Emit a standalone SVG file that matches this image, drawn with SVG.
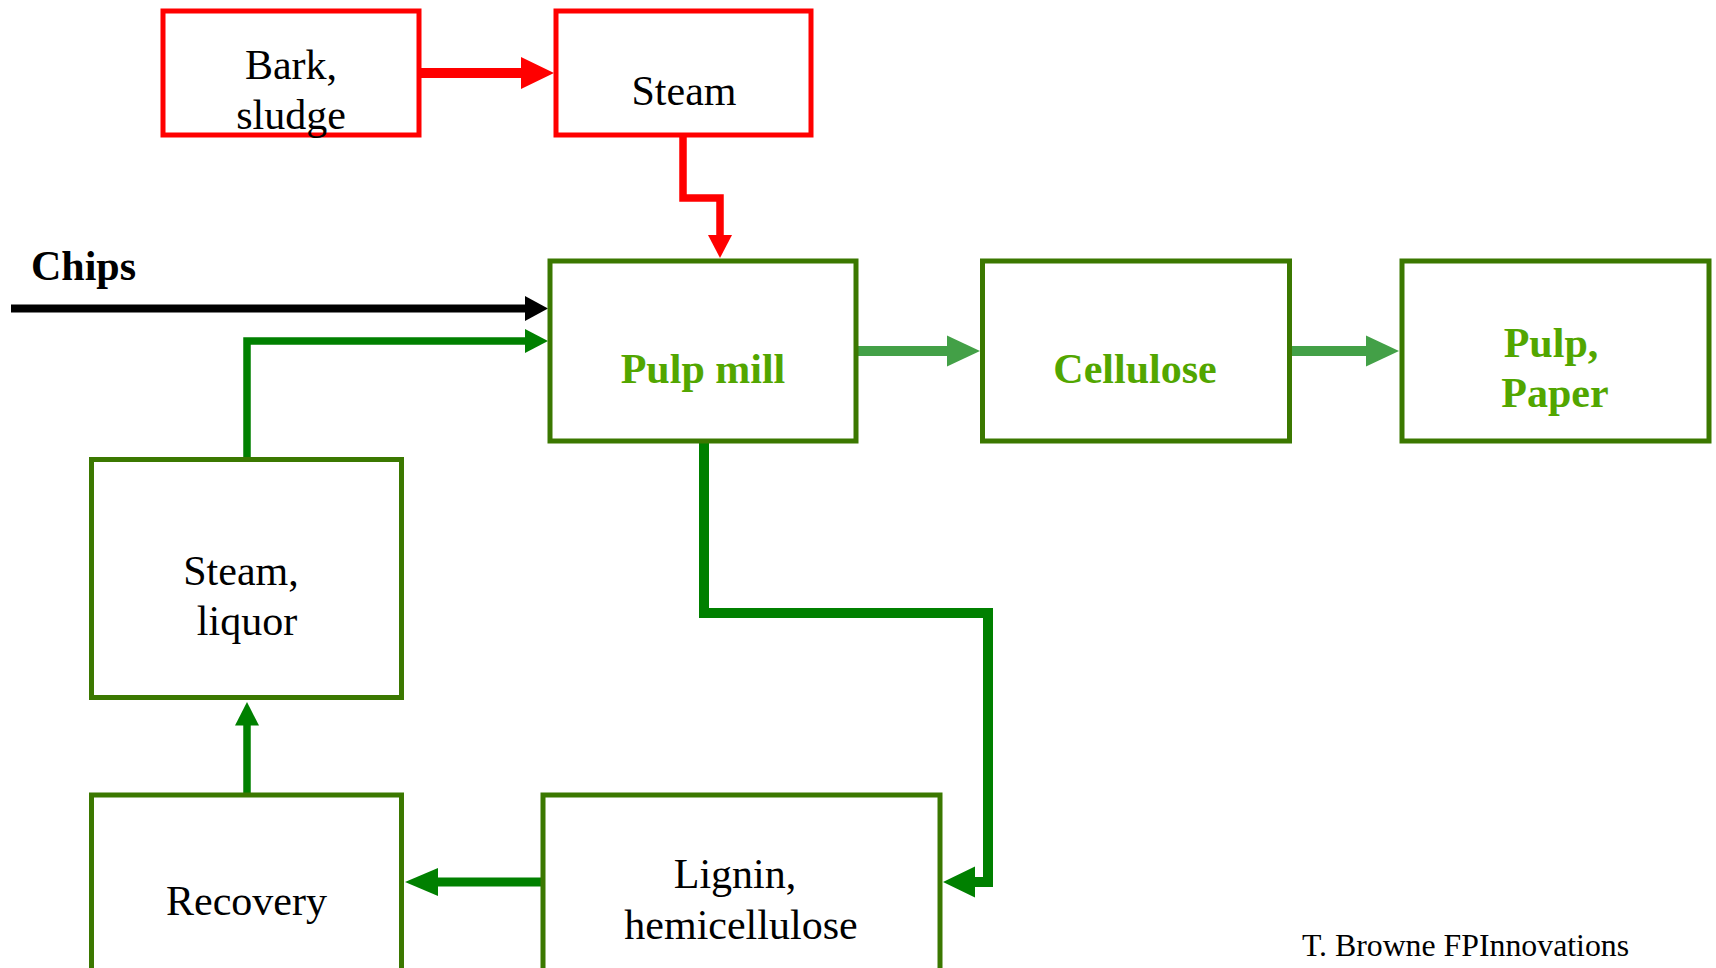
<svg xmlns="http://www.w3.org/2000/svg" width="1716" height="968" viewBox="0 0 1716 968">
<style>
.red{fill:#fff;stroke:#ff0000;stroke-width:5}
.box{fill:#fff;stroke:#3b7800;stroke-width:5}
.t{font-family:"Liberation Serif","Times New Roman",serif;font-size:42px;fill:#000;text-anchor:middle}
.g{font-weight:bold;fill:#52a600}
.c{fill:none;stroke-linejoin:miter;stroke-linecap:butt}
</style>
<rect width="1716" height="968" fill="#fff"/>
<g id="connectors">
  <line class="c" x1="421" y1="73" x2="523" y2="73" stroke="#ff0000" stroke-width="10"/>
  <polygon points="521,57 554,73 521,89" fill="#ff0000"/>
  <polyline class="c" points="683,137 683,198 720,198 720,237" stroke="#ff0000" stroke-width="7.5"/>
  <polygon points="708,235 732,235 720,258" fill="#ff0000"/>
  <line class="c" x1="11" y1="308.5" x2="527" y2="308.5" stroke="#000" stroke-width="8"/>
  <polygon points="525,296 548,308.5 525,321" fill="#000"/>
  <polyline class="c" points="247,457 247,341 527,341" stroke="#008000" stroke-width="7.5"/>
  <polygon points="525,329 548,341 525,353" fill="#008000"/>
  <line class="c" x1="858" y1="351" x2="949" y2="351" stroke="#43a047" stroke-width="10"/>
  <polygon points="947,335.5 980,351 947,366.5" fill="#43a047"/>
  <line class="c" x1="1292" y1="351" x2="1368" y2="351" stroke="#43a047" stroke-width="10"/>
  <polygon points="1366,335.5 1399,351 1366,366.5" fill="#43a047"/>
  <polyline class="c" points="704,443 704,613 988,613 988,882 973,882" stroke="#008000" stroke-width="10"/>
  <polygon points="975,866.5 943,882 975,897.5" fill="#008000"/>
  <line class="c" x1="541" y1="882" x2="436" y2="882" stroke="#008000" stroke-width="9"/>
  <polygon points="438,868 405,882 438,896" fill="#008000"/>
  <line class="c" x1="247" y1="793" x2="247" y2="723" stroke="#008000" stroke-width="7.5"/>
  <polygon points="235,725.5 247,702 259,725.5" fill="#008000"/>
</g>
<g id="bark">
  <rect class="red" x="163" y="11" width="256" height="124"/>
  <text class="t" x="291" y="79">Bark,</text>
  <text class="t" x="291" y="129">sludge</text>
</g>
<g id="steam">
  <rect class="red" x="556" y="11" width="255" height="124"/>
  <text class="t" x="684" y="105">Steam</text>
</g>
<g id="chips">
  <text class="t" x="31" y="280" style="text-anchor:start;font-weight:bold">Chips</text>
</g>
<g id="pulpmill">
  <rect class="box" x="550" y="261" width="306" height="180"/>
  <text class="t g" x="703" y="383">Pulp mill</text>
</g>
<g id="cellulose">
  <rect class="box" x="982.5" y="261" width="307" height="180"/>
  <text class="t g" x="1135" y="383">Cellulose</text>
</g>
<g id="pulppaper">
  <rect class="box" x="1402" y="261" width="307" height="180"/>
  <text class="t g" x="1551" y="357">Pulp,</text>
  <text class="t g" x="1555" y="407">Paper</text>
</g>
<g id="steamliquor">
  <rect class="box" x="91.5" y="459.5" width="310" height="238"/>
  <text class="t" x="241" y="585">Steam,</text>
  <text class="t" x="247" y="635">liquor</text>
</g>
<g id="recovery">
  <rect class="box" x="91.5" y="795" width="310" height="220"/>
  <text class="t" x="246.5" y="915">Recovery</text>
</g>
<g id="lignin">
  <rect class="box" x="543" y="795" width="397" height="220"/>
  <text class="t" x="735" y="888">Lignin,</text>
  <text class="t" x="741" y="939">hemicellulose</text>
</g>
<g id="credit">
  <text class="t" x="1302" y="956" style="text-anchor:start;font-size:31.8px">T. Browne FPInnovations</text>
</g>
</svg>
